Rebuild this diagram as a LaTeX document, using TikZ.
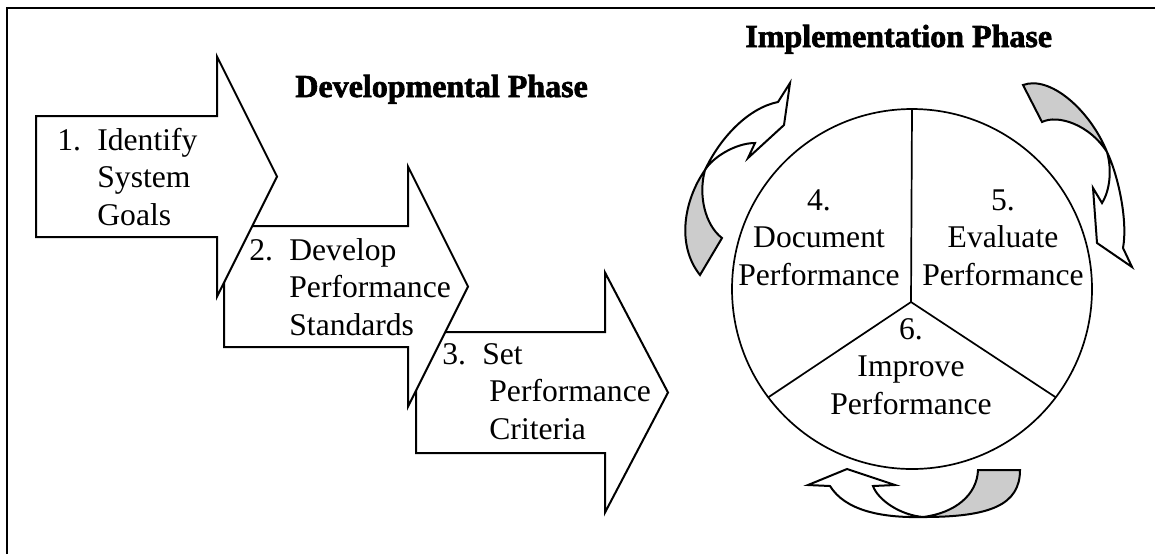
\documentclass[tikz,border=0pt]{standalone}
\usepackage{fontspec}
\setmainfont{Liberation Serif}
\newfontfamily\headfont[FakeBold=2]{Liberation Serif Bold}
\definecolor{backgray}{RGB}{204,204,204}

\begin{document}
\begin{tikzpicture}[x=0.5pt,y=-0.5pt,
        block arrow/.style={draw,fill=white,line width=1pt},
        step label/.style={anchor=base west,inner sep=0pt,font=\fontsize{15.8}{18.75}\selectfont},
        wheel label/.style={anchor=base,inner sep=0pt,font=\fontsize{15.8}{18.75}\selectfont},
        phase title/.style={anchor=base west,inner sep=0pt,font={\headfont\fontsize{16}{19}\selectfont}},
        front face/.style={draw,fill=white,line width=1pt},
        back face/.style={draw,fill=backgray,line width=1pt}]

    \useasboundingbox (0,0) rectangle (1155,554);
    \draw[line width=1pt] (7,554) -- (7,8) -- (1155,8);

    % developmental phase: the three block arrows, last one first
    \foreach \x/\y/\n/\t in {416/392.5/189/252,224/286.5/184/244,36/176.5/181/241}
        \draw[block arrow] (\x,\y-60.5) -- (\x+\n,\y-60.5) -- (\x+\n,\y-120) -- (\x+\t,\y)
            -- (\x+\n,\y+120) -- (\x+\n,\y+60.5) -- (\x,\y+60.5) -- cycle;

    \node[phase title] (devtitle) at (295,97) {Developmental Phase};
    \node[step label] (goals) at (57,150)
        {\begin{tabular}[t]{@{}p{20pt}@{}l@{}}1.&Identify\\&System\\&Goals\end{tabular}};
    \node[step label] (standards) at (249,260)
        {\begin{tabular}[t]{@{}p{20pt}@{}l@{}}2.&Develop\\&Performance\\&Standards\end{tabular}};
    \node[step label] (criteria) at (442,364)
        {\begin{tabular}[t]{@{}p{23.5pt}@{}l@{}}3.&\hspace{-3.5pt}Set\\&Performance\\&Criteria\end{tabular}};

    % implementation phase
    \node[phase title] (imptitle) at (745,47) {Implementation Phase};
    \node[circle,draw,line width=0.85pt,minimum size=180pt,inner sep=0pt,outer sep=0pt] (wheel) at (912,289) {};
    \coordinate (hub) at (911,302);
    \draw[line width=0.85pt] (wheel.north) -- (hub) -- (wheel.-143.13)
        (hub) -- (wheel.-37.2);

    \node[wheel label] (document) at (819,210)
        {\begin{tabular}[t]{@{}c@{}}4.\\Document\\Performance\end{tabular}};
    \node[wheel label] (evaluate) at (1003,210)
        {\begin{tabular}[t]{@{}c@{}}5.\\Evaluate\\Performance\end{tabular}};
    \node[wheel label] (improve) at (911,339)
        {\begin{tabular}[t]{@{}c@{}}6.\\Improve\\Performance\end{tabular}};

    % curved arrows round the wheel
    \draw[back face] (700,275) .. controls (676,245) and (684,200) .. (705,170)
        .. controls (698,195) and (705,225) .. (722,238) -- cycle;
    \draw[front face] (705,170) .. controls (720,138) and (748,108) .. (778,102)
        -- (790,83) -- (784,125) -- (748,158) -- (755,143)
        .. controls (735,143) and (712,158) .. (705,170) -- cycle;

    \draw[back face] (1023,85) .. controls (1050,75) and (1090,110) .. (1107,152)
        .. controls (1090,125) and (1058,114) .. (1042,122) -- cycle;
    \draw[front face] (1107,152) .. controls (1118,175) and (1128,220) .. (1123,248)
        -- (1132,267) -- (1097,243) -- (1093,188) -- (1102,203)
        .. controls (1110,190) and (1112,170) .. (1107,152) -- cycle;

    \draw[back face] (1020,470) .. controls (1020,505) and (990,517) .. (923,517)
        .. controls (955,513) and (977,495) .. (978,470) -- cycle;
    \draw[front face] (923,517) .. controls (880,518) and (845,510) .. (830,486)
        -- (808,485) -- (847,469) -- (895,485) -- (873,486)
        .. controls (878,500) and (900,515) .. (923,517) -- cycle;
\end{tikzpicture}
\end{document}
